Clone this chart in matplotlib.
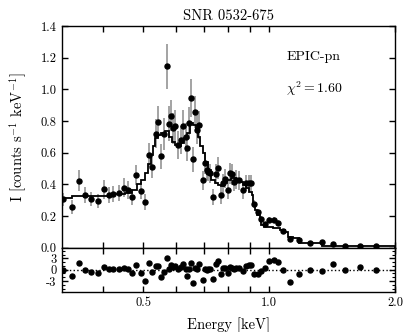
import matplotlib
matplotlib.use("Agg")
import matplotlib.pyplot as plt
from matplotlib.ticker import FixedLocator, NullFormatter, NullLocator

plt.rcParams['font.family'] = 'serif'
plt.rcParams['font.serif'] = ['cmr10', 'DejaVu Serif']
plt.rcParams['mathtext.fontset'] = 'cm'
plt.rcParams['axes.unicode_minus'] = False
plt.rcParams['axes.formatter.use_mathtext'] = True

# ---- data ----
energy = [0.3226, 0.3389, 0.3517, 0.3625, 0.3749, 0.3904, 0.4035, 0.4136, 0.4246, 0.4370,
          0.4499, 0.4604, 0.4712, 0.4811, 0.4932, 0.5064, 0.5168, 0.5263, 0.5370, 0.5439,
          0.5520, 0.5625, 0.5697, 0.5755, 0.5830, 0.5895, 0.5970, 0.6065, 0.6150, 0.6240,
          0.6325, 0.6380, 0.6440, 0.6500, 0.6570, 0.6663, 0.6729, 0.6810, 0.6940, 0.7021,
          0.7090, 0.7160, 0.7240, 0.7337, 0.7459, 0.7566, 0.7692, 0.7777, 0.7860, 0.7994,
          0.8075, 0.8160, 0.8245, 0.8340, 0.8470, 0.8650, 0.8800, 0.8944, 0.9057, 0.9215,
          0.9400, 0.9544, 0.9783, 1.0017, 1.0262, 1.0519, 1.0801, 1.1207, 1.1795, 1.2510,
          1.3364, 1.4224, 1.5166, 1.6497, 1.7985]
counts = [0.305, 0.259, 0.423, 0.331, 0.309, 0.297, 0.369, 0.335, 0.339, 0.343,
          0.377, 0.364, 0.322, 0.459, 0.360, 0.287, 0.585, 0.508, 0.720, 0.794,
          0.577, 0.717, 1.145, 0.783, 0.834, 0.753, 0.770, 0.648, 0.680, 0.768,
          0.697, 0.627, 0.789, 0.947, 0.558, 0.858, 0.745, 0.775, 0.427, 0.537,
          0.490, 0.480, 0.470, 0.322, 0.465, 0.505, 0.333, 0.406, 0.436, 0.364,
          0.470, 0.463, 0.417, 0.430, 0.427, 0.365, 0.406, 0.406, 0.406, 0.274,
          0.223, 0.179, 0.150, 0.173, 0.173, 0.154, 0.107, 0.055, 0.049, 0.030,
          0.036, 0.023, 0.011, 0.013, 0.013]
errors = [0.040, 0.045, 0.065, 0.050, 0.045, 0.045, 0.060, 0.050, 0.050, 0.050,
          0.060, 0.055, 0.050, 0.065, 0.055, 0.050, 0.075, 0.070, 0.090, 0.100,
          0.080, 0.100, 0.140, 0.110, 0.100, 0.100, 0.100, 0.090, 0.090, 0.100,
          0.090, 0.080, 0.100, 0.120, 0.080, 0.100, 0.090, 0.090, 0.060, 0.070,
          0.060, 0.060, 0.060, 0.050, 0.065, 0.070, 0.055, 0.060, 0.060, 0.055,
          0.065, 0.065, 0.060, 0.060, 0.060, 0.055, 0.050, 0.050, 0.050, 0.025,
          0.020, 0.020, 0.015, 0.020, 0.020, 0.020, 0.012, 0.010, 0.008, 0.006,
          0.006, 0.005, 0.004, 0.004, 0.004]
residuals = [0.0, -1.75, 1.67, 0.0, -0.5, -0.8, 0.8, 0.1, 0.1, 0.1,
             0.5, 0.1, -1.0, 1.3, -1.0, -2.9, 1.75, -0.5, 1.05, 1.1,
             -2.0, -0.5, 3.2, 0.1, 1.2, 0.7, 0.9, 0.2, 0.6, 1.4,
             0.1, -1.75, 0.1, 1.67, -3.4, 0.5, 0.2, 1.6, -2.8, 0.1,
             0.0, 0.2, 0.2, -2.4, 1.4, 2.2, -1.2, 0.35, 0.5, -1.0,
             0.6, 0.35, 0.2, 0.5, 0.5, -0.35, 0.9, 1.2, 1.3, -1.1,
             -1.1, -0.35, 0.5, 2.4, 2.5, 1.9, 0.0, -3.2, -1.1, 0.0,
             -0.3, 1.5, 0.0, 0.7, 0.0]

model_edges = [0.320, 0.338, 0.363, 0.417, 0.453, 0.471, 0.484, 0.494, 0.506, 0.514,
               0.522, 0.528, 0.534, 0.543, 0.552, 0.564, 0.577, 0.587, 0.596, 0.606,
               0.616, 0.626, 0.637, 0.647, 0.658, 0.669, 0.677, 0.684, 0.694, 0.703,
               0.715, 0.727, 0.743, 0.755, 0.768, 0.781, 0.794, 0.811, 0.834, 0.853,
               0.867, 0.881, 0.896, 0.908, 0.918, 0.926, 0.936, 0.949, 0.959, 0.970,
               0.989, 1.022, 1.062, 1.092, 1.110, 1.141, 1.179, 1.336, 2.000]
model_values = [0.316, 0.326, 0.328, 0.337, 0.345, 0.365, 0.400, 0.430, 0.470, 0.530,
                0.585, 0.640, 0.690, 0.710, 0.725, 0.735, 0.700, 0.668, 0.648, 0.640,
                0.660, 0.690, 0.725, 0.785, 0.775, 0.745, 0.700, 0.640, 0.596, 0.543,
                0.490, 0.427, 0.406, 0.396, 0.390, 0.406, 0.427, 0.438, 0.432, 0.417,
                0.396, 0.375, 0.354, 0.333, 0.280, 0.238, 0.206, 0.175, 0.143, 0.133,
                0.128, 0.122, 0.112, 0.101, 0.070, 0.058, 0.030, 0.012]

xtick_values = [0.4, 0.5, 0.6, 0.7, 0.8, 0.9, 1.0, 2.0]
xtick_labels = ['', '0.5', '', '', '', '', '1.0', '2.0']
ytick_values = [0.0, 0.2, 0.4, 0.6, 0.8, 1.0, 1.2, 1.4]
ytick_labels = ['0.0', '0.2', '0.4', '0.6', '0.8', '1.0', '1.2', '1.4']
rtick_values = [-3, 0, 3]
rtick_labels = ['-3', '0', '3']
rtick_minor = [-5, -4, -2, -1, 1, 2, 4, 5]

# ---- figure ----
fig = plt.figure(figsize=(4.15, 3.32), dpi=100)
ax1 = fig.add_axes([0.1494, 0.254, 0.8024, 0.6677])
ax2 = fig.add_axes([0.1494, 0.1214, 0.8024, 0.1326], sharex=ax1)

ax1.errorbar(energy, counts, yerr=errors, fmt='none', ecolor='#8a8a8a',
             elinewidth=1.1, capsize=0, zorder=2)
ax1.plot(energy, counts, 'o', color='black', markersize=3.6, zorder=4)
ax1.stairs(model_values, model_edges, color='black', linewidth=1.3, zorder=3)

ax1.set_xscale('log')
ax1.set_xlim(0.32, 2.0)
ax1.set_ylim(0.0, 1.4)
ax1.set_yticks(ytick_values)
ax1.set_yticklabels(ytick_labels)
ax1.xaxis.set_major_locator(FixedLocator(xtick_values))
ax1.xaxis.set_minor_locator(NullLocator())
ax1.tick_params(axis='x', labelbottom=False)
ax1.set_ylabel(r'I [counts s$^{-1}$ keV$^{-1}$]', fontsize=10.5)
ax1.yaxis.set_label_coords(-0.10, 0.5)
ax1.set_title('SNR 0532-675', fontsize=10.5, pad=4)
ax1.text(0.673, 0.86, 'EPIC-pn', transform=ax1.transAxes, fontsize=10,
         ha='left', va='center')
ax1.text(0.673, 0.716, r'$\chi^2 = 1.60$', transform=ax1.transAxes, fontsize=10,
         ha='left', va='center')

ax2.plot(energy, residuals, 'o', color='black', markersize=3.6, zorder=3)
ax2.axhline(0, color='black', linestyle=':', linewidth=1.0, zorder=2)
ax2.set_ylim(-5.8, 5.8)
ax2.set_yticks(rtick_values)
ax2.set_yticklabels(rtick_labels)
ax2.yaxis.set_minor_locator(FixedLocator(rtick_minor))
ax2.xaxis.set_major_locator(FixedLocator(xtick_values))
ax2.xaxis.set_minor_locator(NullLocator())
ax2.set_xticklabels(xtick_labels)
ax2.set_xlabel('Energy [keV]', fontsize=10.5, labelpad=6)

for ax in (ax1, ax2):
    ax.tick_params(which='major', direction='in', top=True, right=True,
                   length=4.5, width=1.0, labelsize=9, pad=4)
    ax.tick_params(which='minor', direction='in', top=True, right=True,
                   length=2.5, width=0.8)
    for s in ax.spines.values():
        s.set_linewidth(1.0)

fig.savefig('out.png', dpi=100)
